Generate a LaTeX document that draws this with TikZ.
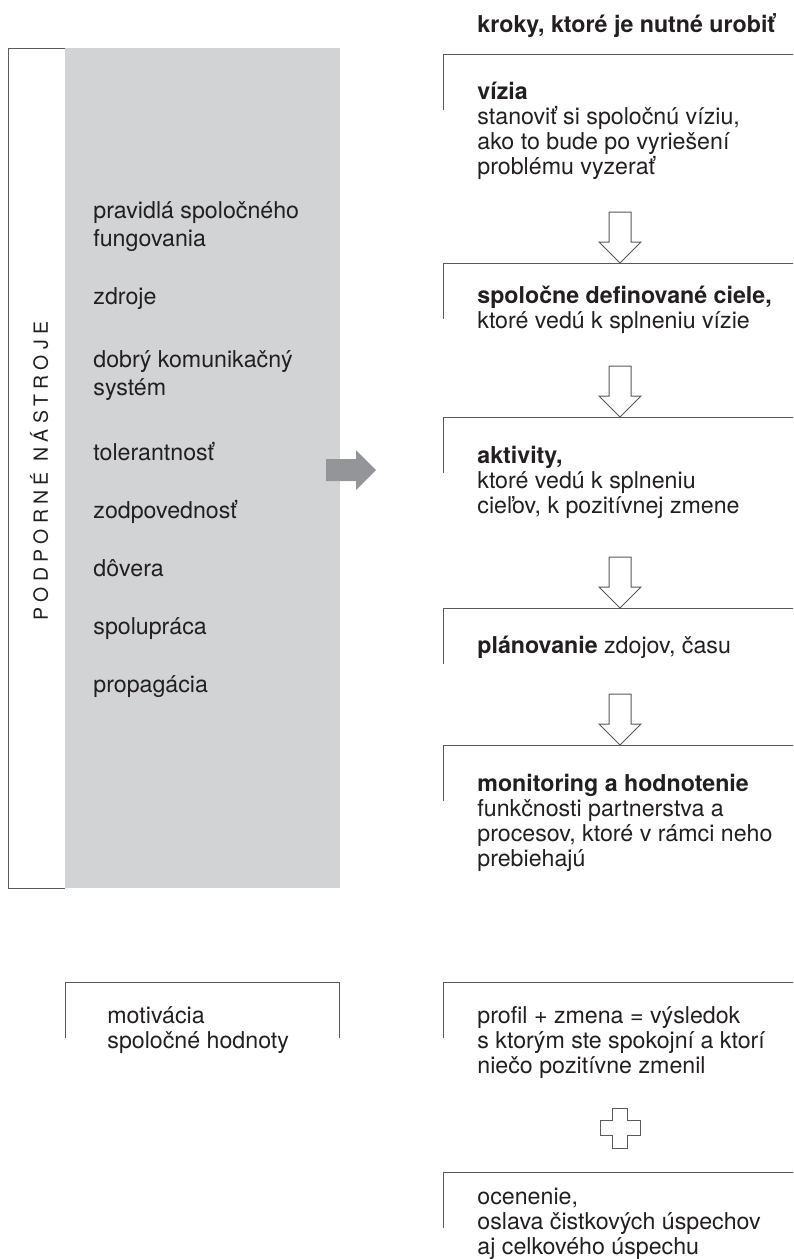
\documentclass[tikz,border=0pt]{standalone}
\usepackage{fontspec}
\setmainfont{TeX Gyre Heros}
\newfontfamily\spacedfont[LetterSpace=27]{TeX Gyre Heros}

\definecolor{textgray}{HTML}{231F20}
\definecolor{panelgray}{HTML}{D1D3D4}
\definecolor{arrowgray}{HTML}{939598}
\definecolor{linegray}{HTML}{58595B}

\tikzset{
  boxline/.style={draw=linegray, line width=0.5pt},
  hollowarrow/.style={draw=linegray, line width=0.5pt, fill=white},
  % multi-line nodes sit on the baseline of their last line
  steptext/.style={anchor=base west, inner sep=0pt, align=left, text=textgray,
    font=\fontsize{11.6pt}{12.5pt}\selectfont},
  listtext/.style={steptext, font=\fontsize{11.6pt}{14pt}\selectfont},
}

\begin{document}
\begin{tikzpicture}[x=0.5pt, y=-0.5pt]
  \useasboundingbox (0,0) rectangle (793,1259);

  % left panel with the supporting tools
  \fill[panelgray] (65,48) rectangle (340,888);
  \draw[boxline] (65,48) -- (8,48) -- (8,888) -- (65,888);
  \node[rotate=90, inner sep=0pt, text=textgray,
    font=\spacedfont\fontsize{9.75pt}{10pt}\selectfont] (tools) at (39,471) {PODPORNÉ NÁSTROJE};

  \node[listtext] (rules) at (93,246) {pravidlá spoločného\\fungovania};
  \node[listtext] (sources) at (93,304) {zdroje};
  \node[listtext] (communication) at (93,395) {dobrý komunikačný\\systém};
  \node[listtext] (tolerance) at (93,460) {tolerantnosť};
  \node[listtext] (responsibility) at (93,518) {zodpovednosť};
  \node[listtext] (trust) at (93,576) {dôvera};
  \node[listtext] (cooperation) at (93,634) {spolupráca};
  \node[listtext] (promotion) at (93,692) {propagácia};

  \fill[arrowgray] (326,459) -- (356,459) -- (356,450) -- (376,470)
    -- (356,490) -- (356,481) -- (326,481) -- cycle;

  % steps
  \node[steptext, font=\bfseries\fontsize{11.6pt}{12.5pt}\selectfont] (title) at (477,32) {kroky, ktoré je nutné urobiť};

  \foreach \ytop in {54,263,417,608,745,982,1172}
    \draw[boxline] (793,\ytop) -- (443,\ytop) -- (443,\ytop+56);

  \node[steptext] (vision) at (477,174) {\textbf{vízia}\\stanoviť si spoločnú víziu,\\ako to bude po vyriešení\\problému vyzerať};
  \node[steptext] (goals) at (477,328) {\textbf{spoločne definované ciele,}\\ktoré vedú k splneniu vízie};
  \node[steptext] (activities) at (477,513) {\textbf{aktivity,}\\ktoré vedú k splneniu\\cieľov, k pozitívnej zmene};
  \node[steptext] (planning) at (477,653) {\textbf{plánovanie} zdojov, času};
  \node[steptext] (monitoring) at (477,866) {\textbf{monitoring a hodnotenie}\\funkčnosti partnerstva a\\procesov, ktoré v rámci neho\\prebiehajú};

  \foreach \tip in {263,417,608,745}
    \draw[hollowarrow] (609,\tip-51) -- (631,\tip-51) -- (631,\tip-21) -- (641,\tip-21)
      -- (620,\tip) -- (599,\tip-21) -- (609,\tip-21) -- cycle;

  % bottom row
  \draw[boxline] (65,1038) -- (65,982) -- (339,982) -- (339,1038);
  \node[steptext] (motivation) at (107,1048) {motivácia\\spoločné hodnoty};

  \node[steptext] (result) at (477,1073) {profil + zmena = výsledok\\s ktorým ste spokojní a ktorí\\niečo pozitívne zmenil};
  \draw[hollowarrow] (612.5,1108) -- (627.5,1108) -- (627.5,1120.5) -- (640,1120.5)
    -- (640,1135.5) -- (627.5,1135.5) -- (627.5,1148) -- (612.5,1148) -- (612.5,1135.5)
    -- (600,1135.5) -- (600,1120.5) -- (612.5,1120.5) -- cycle;
  \node[steptext] (reward) at (477,1254) {ocenenie,\\oslava čistkových úspechov\\aj celkového úspechu};
\end{tikzpicture}
\end{document}
